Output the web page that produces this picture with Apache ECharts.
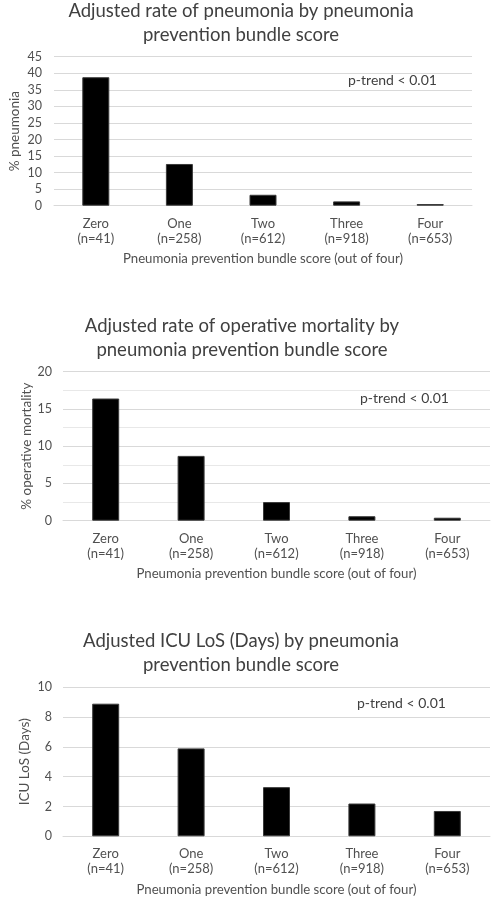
<!DOCTYPE html>
<html>
<head>
<meta charset="utf-8">
<script src="https://cdn.jsdelivr.net/npm/echarts@6/dist/echarts.min.js"></script>
<style>
html,body{margin:0;padding:0;background:#fff;}
#chart{width:492px;height:900px;}
</style>
</head>
<body>
<div id="chart"></div>
<script>
const scoreNames = ['Zero', 'One', 'Two', 'Three', 'Four'];
const sampleSizes = ['n=41', 'n=258', 'n=612', 'n=918', 'n=653'];
const pneumoniaRate = [38.8, 12.6, 3.3, 1.3, 0.5];
const mortalityRate = [16.4, 8.7, 2.5, 0.6, 0.4];
const icuLos = [8.9, 5.9, 3.3, 2.2, 1.7];
const titles = [
  'Adjusted rate of pneumonia by pneumonia\nprevention bundle score',
  'Adjusted rate of operative mortality by\npneumonia prevention bundle score',
  'Adjusted ICU LoS (Days) by pneumonia\nprevention bundle score'
];
const yNames = ['% pneumonia', '% operative mortality', 'ICU LoS (Days)'];
const xName = 'Pneumonia prevention bundle score (out of four)';
const pTrend = 'p-trend < 0.01';

const categories = scoreNames.map((s, i) => s + '\n(' + sampleSizes[i] + ')');
const FONT = 'Lato';
const TXT = '#505050';
const GRID = '#d9d9d9';

const chart = echarts.init(document.getElementById('chart'));

const grids = [
  {left: 45, width: 427, top: 56.7, height: 149},
  {left: 63, width: 427, top: 371.7, height: 149},
  {left: 63, width: 427, top: 687.3, height: 149}
];
const yCfg = [
  {max: 45, interval: 5, margin: 12, gap: 32},
  {max: 20, interval: 5, margin: 11, gap: 29},
  {max: 10, interval: 2, margin: 11, gap: 31}
];
const titleTops = [-6, 309, 624];
const titleLefts = [236, 237, 236];
const pPos = [[348, 82], [360, 400], [357, 705]];
const series = [pneumoniaRate, mortalityRate, icuLos];

const option = {
  animation: false,
  backgroundColor: '#fff',
  title: titles.map((t, i) => ({
    text: t,
    left: titleLefts[i],
    top: titleTops[i],
    textAlign: 'center',
    textStyle: {fontFamily: FONT, fontSize: 18.5, fontWeight: 'normal', color: '#404040', lineHeight: 24}
  })),
  grid: grids,
  xAxis: grids.map((g, i) => ({
    type: 'category',
    gridIndex: i,
    data: categories,
    axisTick: {show: false},
    axisLine: {show: true, lineStyle: {color: GRID, width: 1}},
    axisLabel: {fontFamily: FONT, fontSize: 13, color: TXT, lineHeight: 15, margin: 10.5},
    name: xName,
    nameLocation: 'middle',
    nameGap: 47,
    nameTextStyle: {fontFamily: FONT, fontSize: 13.2, color: TXT}
  })),
  yAxis: grids.map((g, i) => ({
    type: 'value',
    gridIndex: i,
    min: 0,
    max: yCfg[i].max,
    interval: yCfg[i].interval,
    axisLine: {show: false},
    axisTick: {show: false},
    axisLabel: {fontFamily: FONT, fontSize: 12.5, color: TXT, margin: yCfg[i].margin},
    splitLine: {show: true, lineStyle: {color: GRID, width: 1}},
    minorTick: {show: false, splitNumber: 2},
    minorSplitLine: {show: i === 1, lineStyle: {color: '#e8e8e8', width: 1}},
    name: yNames[i],
    nameLocation: 'middle',
    nameRotate: 90,
    nameGap: yCfg[i].gap,
    nameMoveOverlap: false,
    nameTextStyle: {fontFamily: FONT, fontSize: 13.5, color: TXT}
  })),
  series: series.map((d, i) => ({
    type: 'bar',
    xAxisIndex: i,
    yAxisIndex: i,
    data: d,
    barWidth: 27,
    itemStyle: {color: '#000', borderColor: '#3a3a3a', borderWidth: 1}
  })),
  graphic: pPos.map(p => ({
    type: 'text',
    left: p[0],
    top: p[1] - 9,
    style: {text: pTrend, font: '14px ' + FONT, fill: '#404040'}
  }))
};
chart.setOption(option);
</script>
</body>
</html>
